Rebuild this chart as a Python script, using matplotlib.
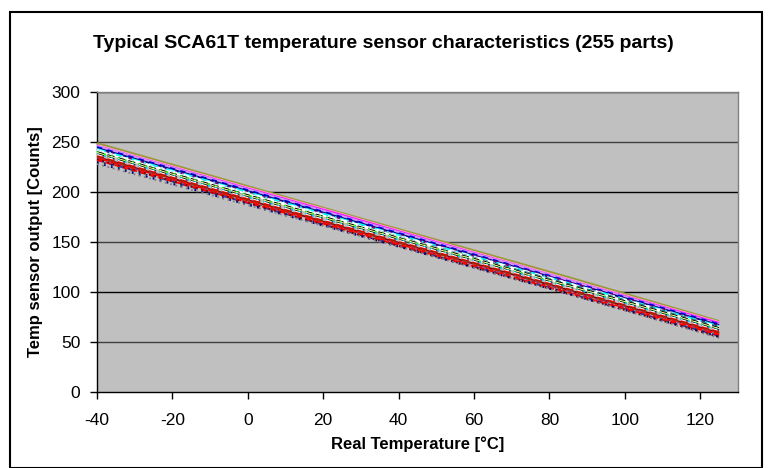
import matplotlib
matplotlib.use("Agg")
import matplotlib.pyplot as plt
from matplotlib.patches import Rectangle

plt.rcParams['font.family'] = ['Liberation Sans', 'DejaVu Sans']

# Measurement temperatures [°C]
temperatures = [-40, 25, 85, 125]

# Sensor output [counts] for a representative selection of parts
part_values = [
    [249, 179, 115, 71],
    [247, 178, 113, 70],
    [246, 177, 112, 69],
    [246, 176, 112, 68],
    [245, 175, 111, 68],
    [244, 174, 110, 67],
    [243, 173, 110, 66],
    [243, 173, 109, 66],
    [242, 172, 109, 65],
    [241, 171, 108, 65],
    [241, 171, 107, 64],
    [240, 170, 107, 64],
    [240, 170, 106, 63],
    [239, 169, 106, 63],
    [238, 168, 105, 62],
    [238, 168, 105, 62],
    [237, 167, 104, 61],
    [237, 167, 104, 61],
    [236, 166, 103, 60],
    [235, 165, 102, 59],
    [235, 165, 102, 59],
    [234, 164, 101, 58],
    [234, 164, 100, 58],
    [233, 163, 100, 57],
    [232, 162, 99, 56],
    [231, 162, 99, 56],
    [232, 163, 99, 57],
    [233, 162, 98, 55],
    [229, 161, 98, 55],
    [228, 161, 98, 54],
]

part_colors = [
    '#999933', '#FF99CC', '#FF00FF', '#CC99FF', '#0000FF', '#000080',
    '#800080', '#00FFFF', '#FFFFFF', '#008080', '#FFFFFF', '#000000',
    '#00FF00', '#FFFF99', '#003300', '#00CCFF', '#666699', '#FFFFFF',
    '#FF0000', '#800000', '#993300', '#993366', '#FF0000', '#969696',
    '#333399', '#003366', '#FF0000', '#800000', '#000080', '#808080',
]

part_styles = [
    '-', '-', '-', '-', (0, (3, 3)), '-',
    (0, (4, 2)), (0, (5, 2, 1, 2)), (0, (4, 3)), (0, (3, 3)), '-', (0, (4, 2)),
    (0, (1, 3)), (0, (4, 2)), (0, (4, 2)), (0, (1, 3)), (0, (4, 2)), (0, (3, 3)),
    (0, (4, 2)), '-', (0, (4, 2)), (0, (5, 2, 1, 2)), (0, (6, 2)), (0, (1, 2)),
    (0, (4, 2)), (0, (1, 3)), (0, (3, 2)), (0, (1, 2)), (0, (1, 3)), (0, (1, 2)),
]

x_ticks = [-40, -20, 0, 20, 40, 60, 80, 100, 120]
y_ticks = [0, 50, 100, 150, 200, 250, 300]

W, H = 768, 468
fig = plt.figure(figsize=(W / 100, H / 100), dpi=100)
ax = fig.add_axes([97 / W, 1 - 392 / H, (738 - 97) / W, (392 - 92) / H])
ax.set_facecolor('#C0C0C0')

for vals, col, ls in zip(part_values, part_colors, part_styles):
    ax.plot(temperatures, vals, color=col, linestyle=ls, linewidth=1.3,
            solid_capstyle='butt', dash_capstyle='butt', zorder=3)

ax.set_xlim(-40, 130)
ax.set_ylim(0, 300)
ax.set_xticks(x_ticks)
ax.set_yticks(y_ticks)
ax.set_xticklabels([str(t) for t in x_ticks])
ax.set_yticklabels([str(t) for t in y_ticks])

for y in y_ticks[1:]:
    ax.axhline(y, color='#000000' if y % 100 == 0 else '#404040', linewidth=1.0, zorder=2)

for s in ['top', 'right']:
    ax.spines[s].set_color('#808080')
    ax.spines[s].set_linewidth(1.0)
for s in ['left', 'bottom']:
    ax.spines[s].set_color('#000000')
    ax.spines[s].set_linewidth(1.0)

ax.tick_params(axis='x', direction='out', length=5, width=1, pad=10, labelsize=12.5)
ax.tick_params(axis='y', direction='out', length=5, width=1, pad=7, labelsize=12.5)

ax.set_xlabel('Real Temperature [°C]', fontsize=12, fontweight='bold', labelpad=6)
ax.set_ylabel('Temp sensor output [Counts]', fontsize=12, fontweight='bold', labelpad=6)

fig.text(383 / W, 1 - 43 / H, 'Typical SCA61T temperature sensor characteristics (255 parts)',
         ha='center', va='center', fontsize=14, fontweight='bold')

fig.patches.append(Rectangle((10 / W, 0), (762 - 10) / W, (H - 12) / H,
                             transform=fig.transFigure, fill=False,
                             edgecolor='black', linewidth=1.5))

fig.savefig('out.png', dpi=100)
